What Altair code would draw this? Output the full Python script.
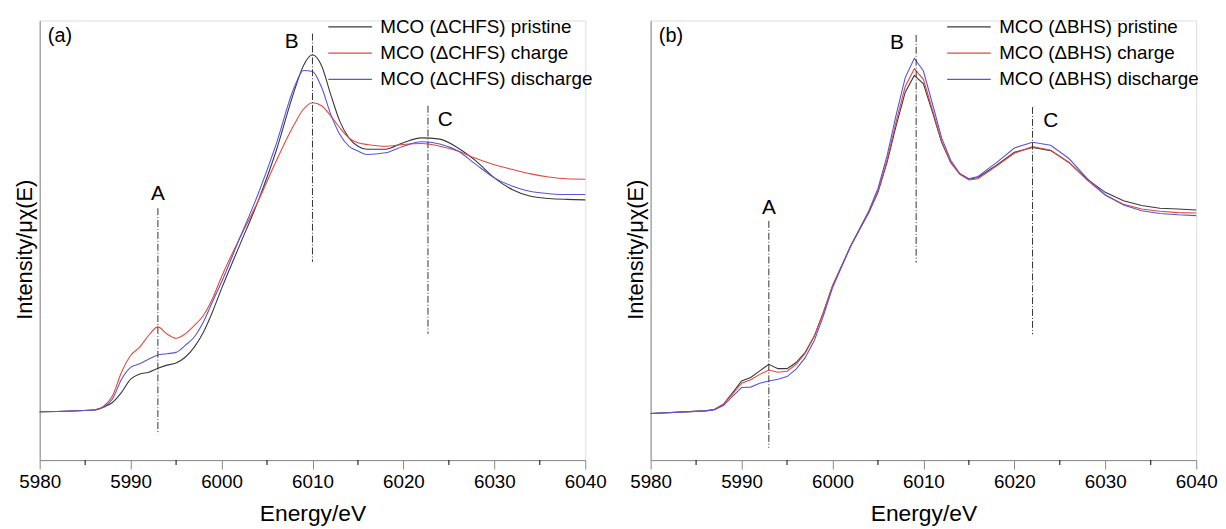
import altair as alt
import pandas as pd

# ---------------- data ----------------
energy_a = [5980, 5986, 5987, 5988, 5989, 5990, 5991, 5992, 5993, 5994, 5995, 5996, 5997, 5998, 5999,
            6000, 6002, 6004, 6006, 6008, 6009, 6010, 6011, 6012, 6013, 6014, 6015, 6016, 6018,
            6020, 6022, 6024, 6026, 6028, 6030, 6032, 6034, 6036, 6038, 6040]
pristine_a = [0.110, 0.114, 0.120, 0.131, 0.154, 0.184, 0.196, 0.200, 0.209, 0.216, 0.221, 0.234, 0.257, 0.291, 0.337,
              0.390, 0.489, 0.588, 0.703, 0.840, 0.897, 0.922, 0.897, 0.832, 0.771, 0.733, 0.714, 0.707, 0.707,
              0.722, 0.733, 0.730, 0.710, 0.680, 0.642, 0.615, 0.600, 0.595, 0.593, 0.592]
charge_a = [0.110, 0.114, 0.122, 0.146, 0.200, 0.238, 0.257, 0.284, 0.303, 0.287, 0.277, 0.287, 0.306, 0.329, 0.367,
            0.417, 0.505, 0.588, 0.680, 0.764, 0.798, 0.813, 0.806, 0.783, 0.756, 0.733, 0.722, 0.718, 0.714,
            0.718, 0.720, 0.714, 0.703, 0.686, 0.672, 0.661, 0.651, 0.644, 0.640, 0.639]
discharge_a = [0.110, 0.114, 0.120, 0.139, 0.184, 0.211, 0.219, 0.230, 0.239, 0.242, 0.245, 0.261, 0.280, 0.314, 0.360,
               0.405, 0.505, 0.604, 0.718, 0.848, 0.886, 0.884, 0.848, 0.787, 0.741, 0.714, 0.703, 0.695, 0.699,
               0.714, 0.724, 0.719, 0.703, 0.672, 0.642, 0.623, 0.611, 0.606, 0.604, 0.604]

energy_b = [5980, 5986, 5987, 5988, 5989, 5990, 5991, 5992, 5993, 5994, 5995, 5996, 5997, 5998, 5999,
            6000, 6002, 6004, 6005, 6006, 6007, 6008, 6009, 6010, 6011, 6012, 6013, 6014, 6015, 6016, 6018,
            6020, 6022, 6024, 6026, 6028, 6030, 6032, 6034, 6036, 6038, 6040]
pristine_b = [0.106, 0.112, 0.115, 0.127, 0.153, 0.180, 0.188, 0.203, 0.218, 0.208, 0.208, 0.222, 0.245, 0.282, 0.336,
              0.396, 0.487, 0.563, 0.609, 0.677, 0.761, 0.837, 0.875, 0.856, 0.791, 0.723, 0.677, 0.651, 0.639, 0.643, 0.670,
              0.700, 0.711, 0.704, 0.677, 0.639, 0.609, 0.590, 0.579, 0.573, 0.571, 0.569]
charge_b = [0.106, 0.112, 0.115, 0.127, 0.150, 0.175, 0.183, 0.195, 0.205, 0.200, 0.202, 0.218, 0.243, 0.282, 0.336,
            0.396, 0.487, 0.565, 0.612, 0.682, 0.770, 0.850, 0.890, 0.866, 0.796, 0.725, 0.677, 0.650, 0.637, 0.640, 0.668,
            0.698, 0.713, 0.705, 0.677, 0.637, 0.603, 0.582, 0.571, 0.566, 0.563, 0.562]
discharge_b = [0.106, 0.112, 0.114, 0.124, 0.145, 0.165, 0.166, 0.175, 0.180, 0.184, 0.190, 0.207, 0.233, 0.272, 0.328,
               0.392, 0.487, 0.567, 0.618, 0.692, 0.785, 0.870, 0.914, 0.885, 0.810, 0.733, 0.682, 0.652, 0.640, 0.645, 0.676,
               0.710, 0.723, 0.716, 0.686, 0.641, 0.603, 0.580, 0.567, 0.561, 0.558, 0.556]

series_a = ["MCO (ΔCHFS) pristine", "MCO (ΔCHFS) charge", "MCO (ΔCHFS) discharge"]
series_b = ["MCO (ΔBHS) pristine", "MCO (ΔBHS) charge", "MCO (ΔBHS) discharge"]
series_colors = ["#3a3a3a", "#e2483f", "#5656dc"]

major_ticks = [5980, 5990, 6000, 6010, 6020, 6030, 6040]
minor_ticks = [5985, 5995, 6005, 6015, 6025, 6035]

marker_names = ["A", "B", "C"]
marker_x_a = [5993.0, 6010.0, 6022.7]
marker_top_a = [0.573, 0.970, 0.806]
marker_bottom_a = [0.059, 0.451, 0.287]
label_x_a = [5993.0, 6007.7, 6024.6]
label_y_a = [0.605, 0.950, 0.774]

marker_x_b = [5993.0, 6009.2, 6022.0]
marker_top_b = [0.544, 0.967, 0.803]
marker_bottom_b = [0.028, 0.449, 0.286]
label_x_b = [5993.0, 6007.1, 6024.0]
label_y_b = [0.574, 0.948, 0.771]

panel_tags = ["(a)", "(b)"]
tag_x = 5980.9
tag_y = 0.965

FONT = "Liberation Sans"
W, H = 551, 444


def panel(tag, energy, curves, names, mx, mtop, mbot, lx, ly, interp, legend_x):
    rows = []
    for name, vals in zip(names, curves):
        for e, v in zip(energy, vals):
            rows.append({"energy": e, "intensity": v, "series": name})
    df = pd.DataFrame(rows)

    xs = alt.Scale(domain=[5980, 6040], nice=False, zero=False)
    ysc = alt.Scale(domain=[0, 1], nice=False, zero=False)

    xaxis = alt.Axis(title="Energy/eV", values=major_ticks, format="d",
                     tickSize=9, labelPadding=4, titlePadding=11, labelFontSize=19,
                     titleFontSize=23, titleFontWeight="normal", grid=False, labelFlush=False)
    yaxis = alt.Axis(title="Intensity/μχ(E)", labels=False, ticks=False, grid=False,
                     titleFontSize=22, titleFontWeight="normal", titlePadding=3, titleY=231)

    lines = alt.Chart(df).mark_line(strokeWidth=1.1, interpolate=interp).encode(
        x=alt.X("energy:Q", scale=xs, axis=xaxis),
        y=alt.Y("intensity:Q", scale=ysc, axis=yaxis),
        color=alt.Color("series:N", sort=names,
                        scale=alt.Scale(domain=names, range=series_colors),
                        legend=alt.Legend(title=None, orient="none", legendX=legend_x, legendY=-3,
                                          padding=0,
                                          symbolType="M-4,0H4", symbolSize=121,
                                          symbolStrokeWidth=1.2, labelFontSize=19,
                                          labelFont=FONT, labelColor="black",
                                          rowPadding=6.5, labelOffset=21, labelLimit=400)),
    )

    minor = alt.Chart(pd.DataFrame({"t": minor_ticks})).mark_rule(
        color="black", strokeWidth=1).encode(
        x=alt.X("t:Q", scale=xs), y=alt.value(H), y2=alt.value(H + 5))

    mk = pd.DataFrame({"name": marker_names, "x": mx, "top": mtop, "bottom": mbot,
                       "lx": lx, "ly": ly})
    rules = alt.Chart(mk).mark_rule(color="#333333", strokeWidth=1,
                                    strokeDash=[7, 2, 1, 2]).encode(
        x=alt.X("x:Q", scale=xs), y=alt.Y("top:Q", scale=ysc), y2="bottom:Q")
    letters = alt.Chart(mk).mark_text(fontSize=21, font=FONT, color="black").encode(
        x=alt.X("lx:Q", scale=xs), y=alt.Y("ly:Q", scale=ysc), text="name:N")

    tg = pd.DataFrame({"t": [tag], "x": [tag_x], "y": [tag_y]})
    tag_text = alt.Chart(tg).mark_text(fontSize=20, font=FONT, color="black",
                                       align="left").encode(
        x=alt.X("x:Q", scale=xs), y=alt.Y("y:Q", scale=ysc), text="t:N")

    return alt.layer(lines, minor, rules, letters, tag_text).properties(width=W, height=H)


pa = panel(panel_tags[0], energy_a, [pristine_a, charge_a, discharge_a], series_a,
           marker_x_a, marker_top_a, marker_bottom_a, label_x_a, label_y_a, "monotone", 304)
pb = panel(panel_tags[1], energy_b, [pristine_b, charge_b, discharge_b], series_b,
           marker_x_b, marker_top_b, marker_bottom_b, label_x_b, label_y_b, "linear", 312)

chart = alt.hconcat(pa, pb, spacing=17).resolve_scale(color="independent").properties(
    padding={"left": 5, "top": 6, "right": 0, "bottom": 0}
).configure_axis(
    domainColor="black", tickColor="black", labelColor="black", titleColor="black",
    labelFont=FONT, titleFont=FONT, titleFontWeight="normal"
).configure_view(stroke="black", strokeWidth=1).configure(background="white")

chart.save("out.html", embed_options={"renderer": "svg", "actions": False})
